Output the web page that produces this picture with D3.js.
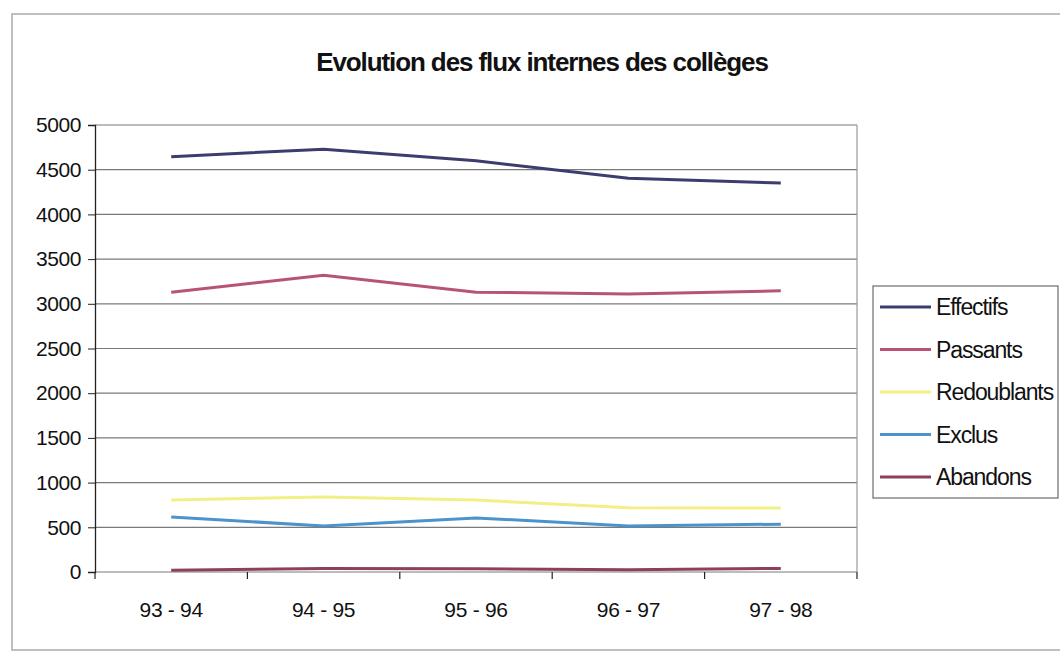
<!DOCTYPE html>
<html>
<head>
<meta charset="utf-8">
<script src="https://cdn.jsdelivr.net/npm/d3@7"></script>
<style>
body { margin: 0; background: #fff; }
svg text { font-family: "Liberation Sans", Arial, sans-serif; fill: #111; }
</style>
</head>
<body>
<div id="chart"></div>
<script>
// years on the x axis
const years = ['93 - 94', '94 - 95', '95 - 96', '96 - 97', '97 - 98'];
const yTicks = [0, 500, 1000, 1500, 2000, 2500, 3000, 3500, 4000, 4500, 5000];

const effectifs = [4645, 4730, 4600, 4405, 4350];
const passants = [3130, 3320, 3130, 3110, 3145];
const redoublants = [805, 840, 805, 720, 715];
const exclus = [615, 515, 605, 515, 535];
const abandons = [20, 40, 35, 25, 40];

const seriesNames = ['Effectifs', 'Passants', 'Redoublants', 'Exclus', 'Abandons'];
const seriesValues = [effectifs, passants, redoublants, exclus, abandons];
const colors = ['#3c3c6e', '#b85473', '#f2ef86', '#4c93cc', '#8e3f5e'];

const width = 1060;
const height = 654;
const plotLeft = 95, plotRight = 857, plotTop = 125, plotBottom = 572;

var svg = d3.select('#chart')
  .append('svg')
  .attr('width', width)
  .attr('height', height);

// outer frame
svg.append('rect')
  .attr('x', 12).attr('y', 14)
  .attr('width', 1060).attr('height', 636)
  .attr('fill', 'none')
  .attr('stroke', '#aaa')
  .attr('stroke-width', 1.5);

svg.append('text')
  .attr('x', 542).attr('y', 71)
  .attr('text-anchor', 'middle')
  .attr('font-size', '26px')
  .attr('font-weight', 'bold')
  .attr('letter-spacing', '-1.1px')
  .text('Evolution des flux internes des collèges');

var x = d3.scaleBand().domain(years).range([plotLeft, plotRight]);
var y = d3.scaleLinear().domain([0, 5000]).range([plotBottom, plotTop]);

// gridlines
svg.append('g')
  .selectAll('line')
  .data(yTicks)
  .enter()
  .append('line')
  .attr('x1', plotLeft).attr('x2', plotRight)
  .attr('y1', d => y(d)).attr('y2', d => y(d))
  .attr('stroke', '#7a7a7a')
  .attr('stroke-width', 1.2);

svg.append('line')
  .attr('x1', plotRight).attr('x2', plotRight)
  .attr('y1', plotTop).attr('y2', plotBottom)
  .attr('stroke', '#999').attr('stroke-width', 1.2);

var yAxis = svg.append('g')
  .attr('transform', 'translate(' + plotLeft + ',0)')
  .call(d3.axisLeft(y).tickValues(yTicks).tickSize(7).tickPadding(7).tickFormat(d3.format('d')));
yAxis.select('.domain').attr('stroke', '#222').attr('stroke-width', 1.3);
yAxis.selectAll('.tick line').attr('stroke', '#222');
yAxis.selectAll('text')
  .attr('font-size', '21px')
  .attr('letter-spacing', '-0.4px')
  .attr('font-family', '"Liberation Sans", Arial, sans-serif')
  .attr('fill', '#111');

var xAxis = svg.append('g')
  .attr('transform', 'translate(0,' + plotBottom + ')')
  .call(d3.axisBottom(x).tickSize(0).tickPadding(30));
xAxis.select('.domain').remove();
xAxis.selectAll('text')
  .attr('font-size', '21px')
  .attr('letter-spacing', '-0.3px')
  .attr('font-family', '"Liberation Sans", Arial, sans-serif')
  .attr('fill', '#111');

// category separators below the axis
var seps = years.map(d => x(d)).concat([plotRight]);
svg.append('g')
  .selectAll('line')
  .data(seps)
  .enter()
  .append('line')
  .attr('x1', d => d).attr('x2', d => d)
  .attr('y1', plotBottom).attr('y2', plotBottom + 7)
  .attr('stroke', '#222')
  .attr('stroke-width', 1.2);

var line = d3.line()
  .x((d, i) => x(years[i]) + x.bandwidth() / 2)
  .y(d => y(d));

svg.append('g')
  .selectAll('path')
  .data(seriesValues)
  .enter()
  .append('path')
  .attr('d', d => line(d))
  .attr('fill', 'none')
  .attr('stroke', (d, i) => colors[i])
  .attr('stroke-width', 3);

// legend
svg.append('rect')
  .attr('x', 873).attr('y', 286)
  .attr('width', 185).attr('height', 212)
  .attr('fill', '#fff')
  .attr('stroke', '#777')
  .attr('stroke-width', 1.3);

let items = svg.selectAll('.leg')
  .data(seriesNames)
  .enter()
  .append('g')
  .attr('class', 'leg')
  .attr('transform', (d, i) => 'translate(0,' + (307 + i * 42.5) + ')');

items.append('line')
  .attr('x1', 880).attr('x2', 931)
  .attr('stroke', (d, i) => colors[i])
  .attr('stroke-width', 3);

items.append('text')
  .attr('x', 936)
  .attr('dy', '0.35em')
  .attr('font-size', '23px')
  .attr('letter-spacing', '-1.1px')
  .text(d => d);
</script>
</body>
</html>
